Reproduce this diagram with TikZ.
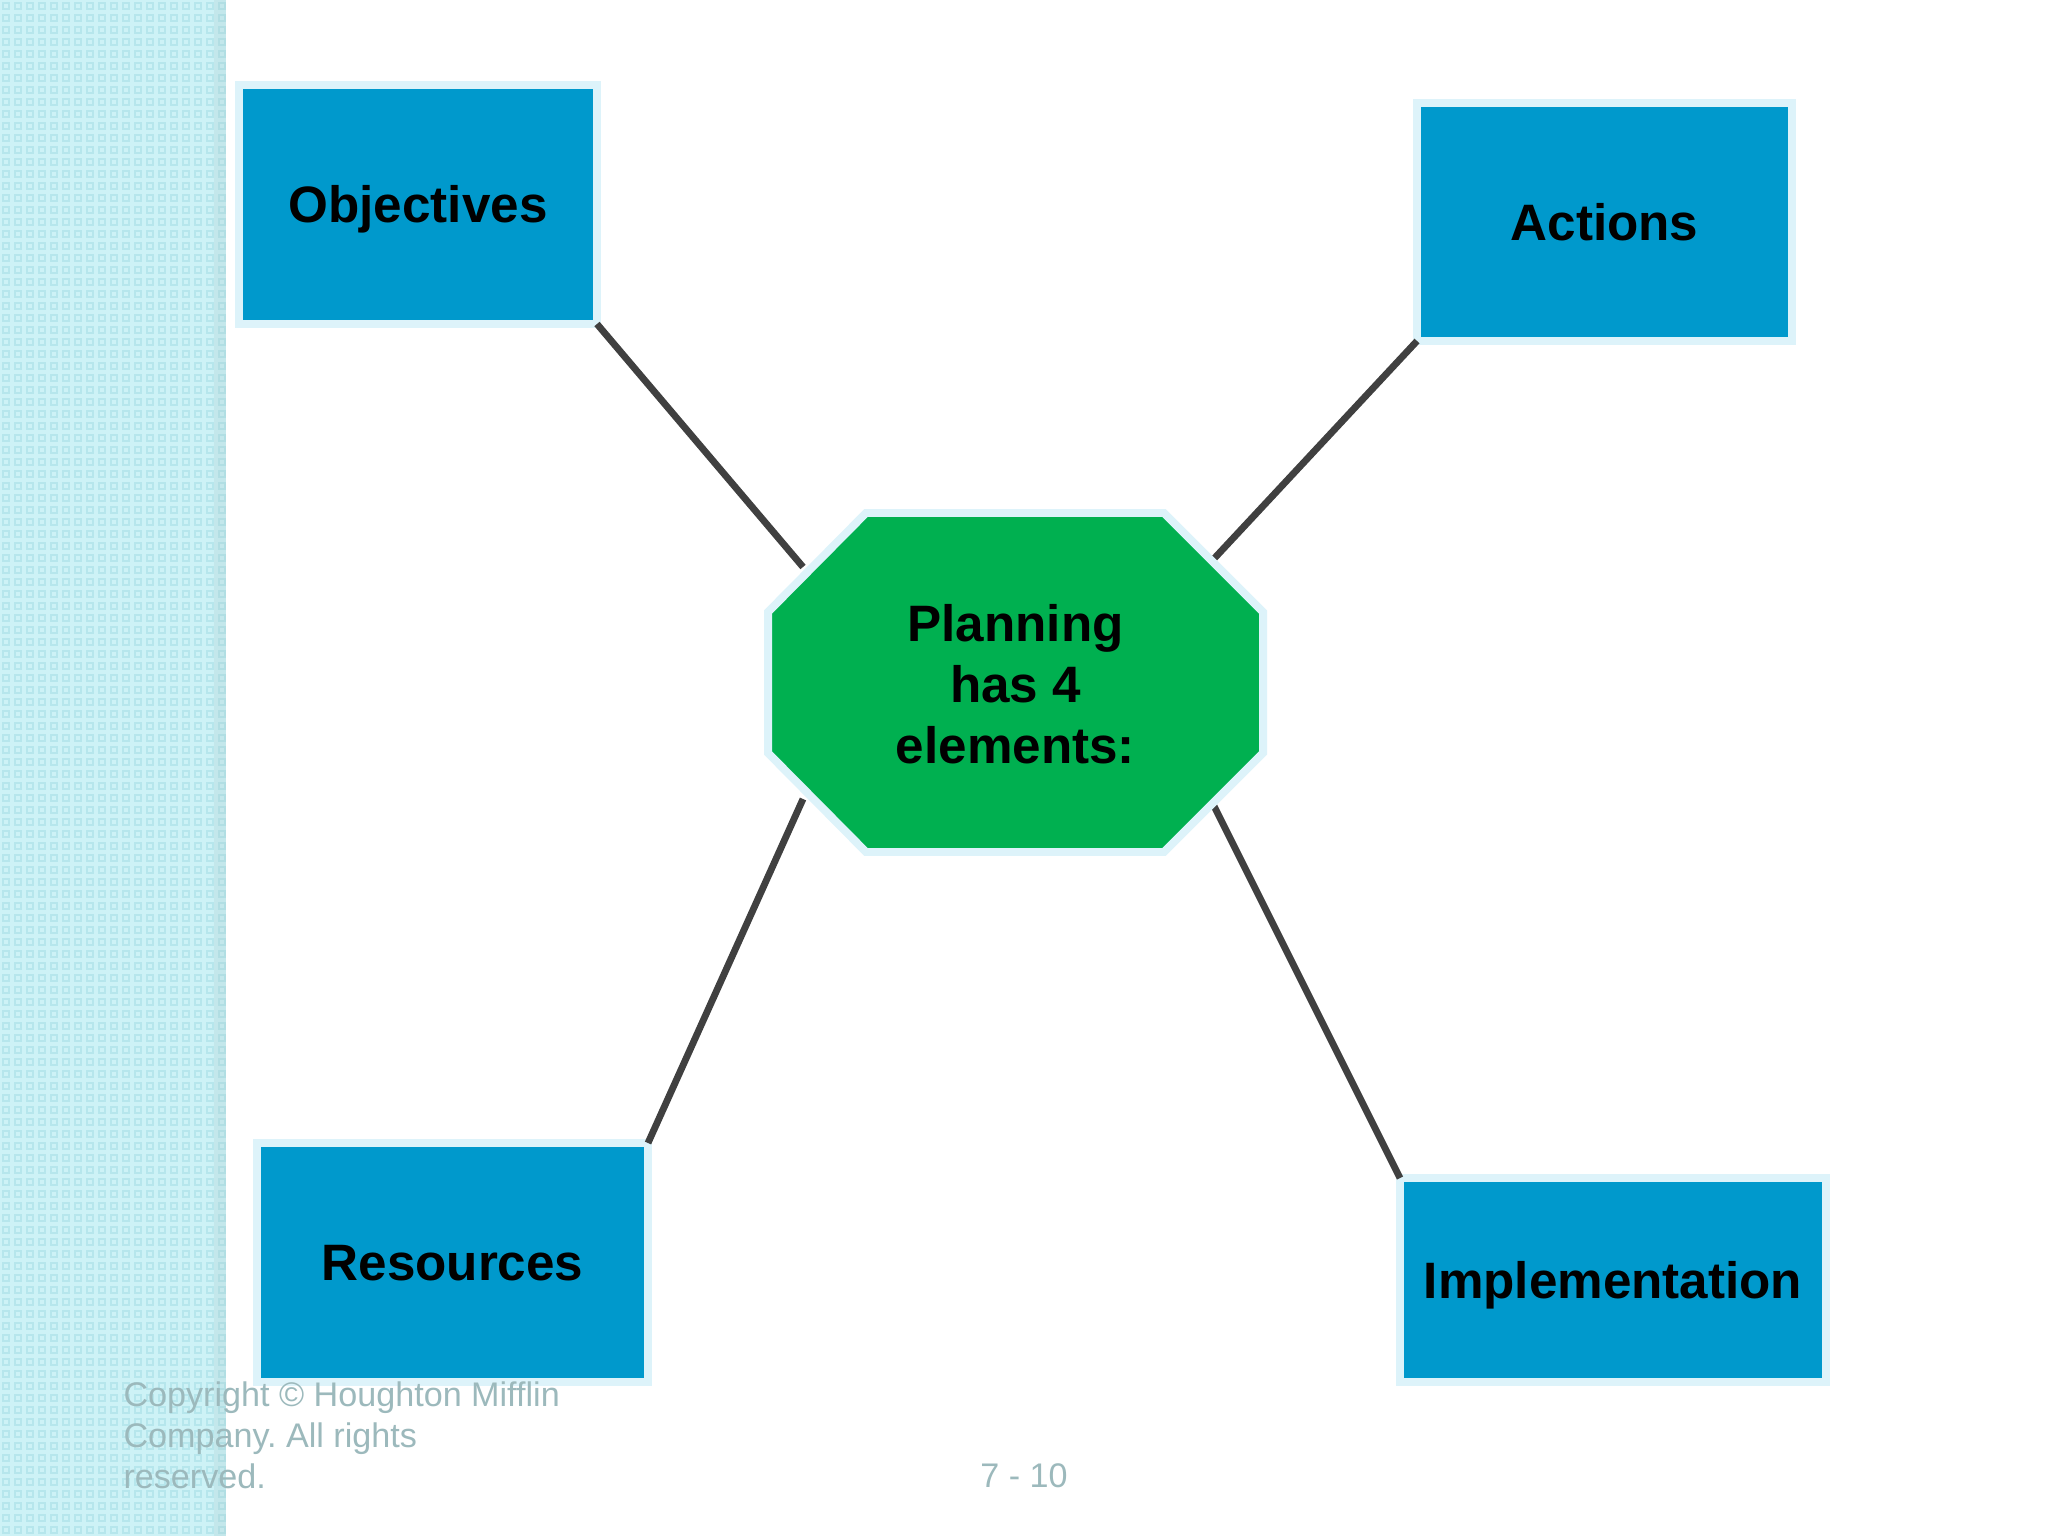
\documentclass[tikz,border=0pt]{standalone}
\usepackage{fontspec}
\setmainfont{Liberation Sans}

\definecolor{boxblue}{HTML}{0099CC}
\definecolor{hubgreen}{HTML}{00B050}
\definecolor{rimcyan}{HTML}{DDF3FA}
\definecolor{spokegray}{HTML}{404040}
\definecolor{notegray}{HTML}{9CB9BC}
\definecolor{stripebase}{HTML}{CDF2F6}
\definecolor{stripedot}{HTML}{B6E6EC}

\newcommand{\pxu}{0.35156pt}

\begin{document}
\begin{tikzpicture}[x=\pxu,y=-\pxu,
  element/.style={draw=rimcyan,fill=boxblue,line width=2.81pt,outer sep=0pt,inner sep=0pt,
    text height=12.9pt,text depth=0pt,font=\fontsize{18}{21.6}\selectfont\bfseries},
  hubrim/.style={draw=rimcyan,fill=hubgreen,line width=2.81pt},
  hub/.style={inner sep=0pt,align=center,font=\fontsize{18}{21.4}\selectfont\bfseries},
  spoke/.style={draw=spokegray,line width=2.4pt},
  note/.style={text=notegray,font=\fontsize{12}{14.4}\selectfont\frenchspacing,inner sep=0pt}]
\useasboundingbox (0,0) rectangle (2048,1536);
\fill[white] (0,0) rectangle (2048,1536);
% patterned side stripe
\fill[stripebase] (0,0) rectangle (226,1536);
\foreach \i in {0,...,18}
  \foreach \j in {0,...,127}
    \draw[stripedot,line width=0.5pt] (\i*12+3,\j*12+3) rectangle +(6,6);
\fill[stripedot!70!gray,opacity=0.25] (214,0) rectangle (226,1536);

% the four elements
\node[element,minimum width=358*\pxu,minimum height=239*\pxu] (obj) at (418,204.5) {Objectives};
\node[element,minimum width=375*\pxu,minimum height=238*\pxu] (act) at (1604.5,222) {Actions};
\node[element,minimum width=391*\pxu,minimum height=239*\pxu] (res) at (452.5,1262.5) {Resources};
\node[element,minimum width=426*\pxu,minimum height=204*\pxu] (imp) at (1613,1280) {Implementation};

% spokes
\coordinate (objend) at (803,567);
\coordinate (actend) at (1210,563);
\coordinate (resend) at (803,799);
\coordinate (impend) at (1211,800);
\draw[spoke] (obj.south east) -- (objend);
\draw[spoke] (act.south west) -- (actend);
\draw[spoke] (res.north east) -- (resend);
\draw[spoke] (imp.north west) -- (impend);

% octagon in the middle
\draw[hubrim] (866,513) -- (1164,513) -- (1263,612) -- (1263,753) -- (1164,852)
  -- (866,852) -- (768,753) -- (768,612) -- cycle;
\node[hub] (plan) at (1015.5,684) {Planning\\has 4\\elements:};

% footer
\node[note,anchor=north west,align=left] (copy) at (123,1381) {Copyright © Houghton Mifflin\\Company. All rights\\reserved.};
\node[note] (pageno) at (1024,1476) {7 - 10};
\end{tikzpicture}
\end{document}
